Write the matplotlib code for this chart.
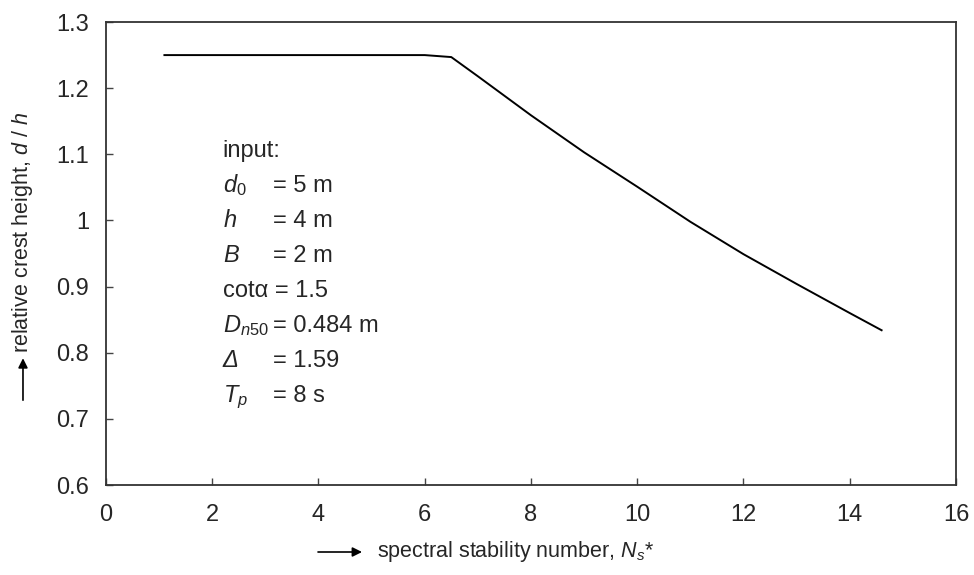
import matplotlib
matplotlib.use("Agg")
import matplotlib.pyplot as plt
from matplotlib.patches import FancyArrowPatch

plt.rcParams['font.family'] = ['Liberation Sans', 'DejaVu Sans']
plt.rcParams['mathtext.fontset'] = 'custom'
plt.rcParams['mathtext.rm'] = 'Liberation Sans'
plt.rcParams['mathtext.it'] = 'Liberation Sans:italic'

# curve
ns = [1.1, 2, 3, 4, 5, 6.0, 6.5, 7, 8, 9, 10, 11, 12, 13, 14, 14.6]
rel_height = [1.25, 1.25, 1.25, 1.25, 1.25, 1.25, 1.247, 1.218, 1.159, 1.103,
              1.051, 0.998, 0.949, 0.904, 0.860, 0.834]

x_ticks = [0, 2, 4, 6, 8, 10, 12, 14, 16]
y_ticks = [0.6, 0.7, 0.8, 0.9, 1.0, 1.1, 1.2, 1.3]
y_tick_labels = ["0.6", "0.7", "0.8", "0.9", "1", "1.1", "1.2", "1.3"]

# input block
input_names = ["input:", r"$d_{\mathit{0}}$", r"$h$", r"$B$", "cotα = 1.5",
               r"$D_{\mathit{n50}}$", "Δ", r"$T_{\mathit{p}}$"]
input_values = ["", "= 5 m", "= 4 m", "= 2 m", "", "= 0.484 m", "= 1.59", "= 8 s"]

TXT = '#262626'

fig = plt.figure(figsize=(9.74, 5.75), dpi=100)
ax = fig.add_axes([0.1088, 0.1565, 0.8727, 0.8052])

ax.plot(ns, rel_height, color='black', lw=1.4)

ax.set_xlim(0, 16)
ax.set_ylim(0.6, 1.3)
ax.set_xticks(x_ticks)
ax.set_yticks(y_ticks)
ax.set_yticklabels(y_tick_labels)
ax.tick_params(direction='in', length=5, width=1, colors='#444444',
               labelsize=17, labelcolor=TXT)
ax.tick_params(axis='x', pad=14)
ax.tick_params(axis='y', pad=12)
for s in ax.spines.values():
    s.set_color('#333333')
    s.set_linewidth(1.3)

# text block, baselines in data units
x_name, x_val = 2.2, 3.15
y0, dy = 1.096, -0.053
for i, (nm, val) in enumerate(zip(input_names, input_values)):
    yy = y0 + dy * i
    style = 'italic' if nm == "Δ" else 'normal'
    ax.text(x_name, yy, nm, fontsize=17, va='baseline', color=TXT, style=style)
    if val:
        ax.text(x_val, yy, val, fontsize=17, va='baseline', color=TXT)

# axis labels with arrows
fig.text(0.387, 0.040, r"spectral stability number, $N_s$*", fontsize=15.5,
         va='center', ha='left', color=TXT)
fig.add_artist(FancyArrowPatch(
    (0.3265, 0.040), (0.3717, 0.040), transform=fig.transFigure,
    arrowstyle='-|>', mutation_scale=14, color='black', lw=1.2,
    shrinkA=0, shrinkB=0))

fig.text(0.0236, 0.386, r"relative crest height, $d$ / $h$", fontsize=15.5,
         rotation=90, va='bottom', ha='center', color=TXT)
fig.add_artist(FancyArrowPatch(
    (0.0236, 0.304), (0.0236, 0.377), transform=fig.transFigure,
    arrowstyle='-|>', mutation_scale=14, color='black', lw=1.2,
    shrinkA=0, shrinkB=0))

fig.savefig("out.png", dpi=100)
